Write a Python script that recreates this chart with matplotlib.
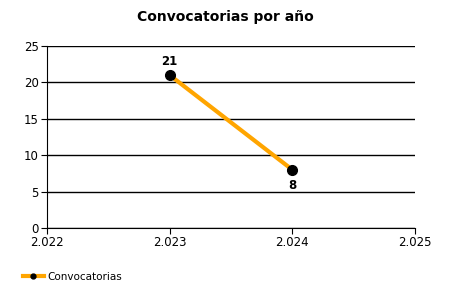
import matplotlib
matplotlib.use('Agg')
import matplotlib.pyplot as plt
from matplotlib.lines import Line2D
from matplotlib.ticker import FuncFormatter

# Datos
years = [2023, 2024]
counts = [21, 8]
x_ticks = [2022, 2023, 2024, 2025]
y_ticks = [0, 5, 10, 15, 20, 25]
series_name = 'Convocatorias'

plt.rcParams['font.family'] = ['DejaVu Sans']

fig = plt.figure(figsize=(4.5, 3), dpi=100)
ax = fig.add_axes([0.1044, 0.24, 0.8178, 0.6067])

ax.plot(years, counts, color='#FFA500', linewidth=3, zorder=3)
ax.plot(years, counts, 'o', color='black', markersize=7, zorder=4)

for x, y in zip(years, counts):
    off = 10 if y == max(counts) else -11
    ax.annotate(str(y), (x, y), textcoords='offset points', xytext=(0, off),
                ha='center', va='center', fontsize=8.5, fontweight='bold')

ax.set_xlim(2022, 2025)
ax.set_ylim(0, 25)
ax.set_xticks(x_ticks)
ax.set_yticks(y_ticks)
ax.xaxis.set_major_formatter(FuncFormatter(lambda v, p: f'{v/1000:.3f}'))
ax.grid(axis='y', color='black', linewidth=1)
ax.set_axisbelow(True)
for s in ['top', 'right']:
    ax.spines[s].set_visible(False)
ax.tick_params(labelsize=8.5, length=4, pad=2)

fig.suptitle('Convocatorias por año', x=0.5, y=0.965, fontsize=10, fontweight='bold')

handle = Line2D([], [], color='#FFA500', linewidth=3, marker='o',
                markerfacecolor='black', markeredgecolor='black', markersize=3.5)
fig.legend([handle], [series_name], loc='lower left', bbox_to_anchor=(0.03, 0.03),
           frameon=False, fontsize=7.5, handlelength=2, handletextpad=0.4)

fig.savefig('out.png', dpi=100)
